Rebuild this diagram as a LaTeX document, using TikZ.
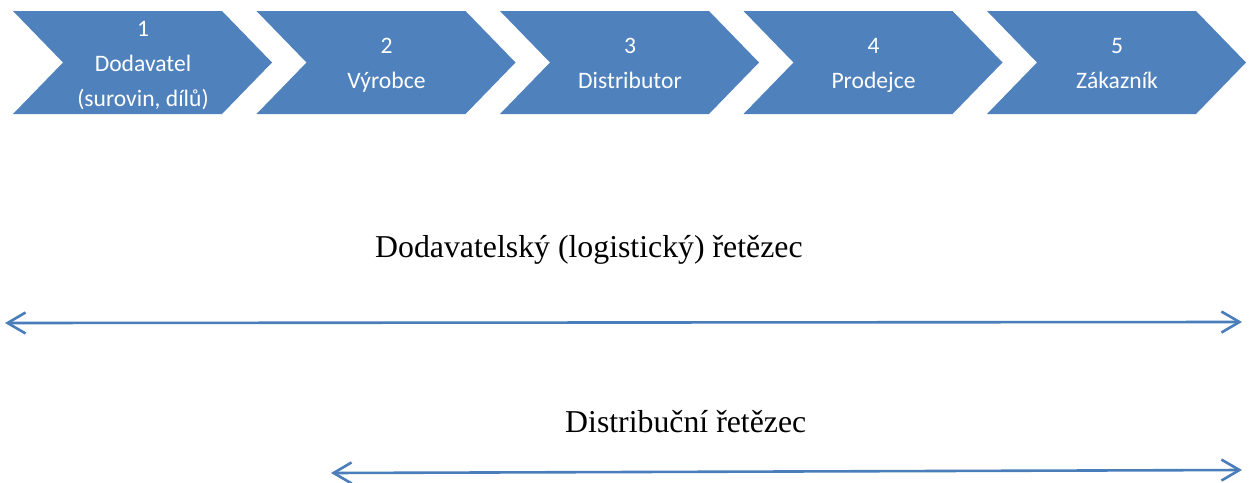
\documentclass[tikz,border=0pt]{standalone}
\usepackage{fontspec}
\setmainfont{Liberation Serif}
\newfontfamily\calibri{Carlito}
\usetikzlibrary{arrows.meta}
\definecolor{ofblue}{HTML}{4F81BD}
\definecolor{arrblue}{HTML}{4A7EBB}
\tikzset{
  chevtext/.style={text=white, align=center, inner sep=0pt, font=\calibri\fontsize{23.6}{35}\selectfont},
  label/.style={anchor=base west, inner sep=0pt, font=\fontsize{31.8}{36}\selectfont},
  arr/.style={draw=arrblue, line width=2.6pt,
    {Straight Barb[length=18pt,width=21pt,line width=2.6pt]}-{Straight Barb[length=18pt,width=21pt,line width=2.6pt]}},
}
\begin{document}
\begin{tikzpicture}[x=1pt,y=-1pt]
\useasboundingbox (0,0) rectangle (1253,482);
\foreach \i/\t in {1/{\strut 1\\\strut Dodavatel\\\strut (surovin, dílů)},2/{\strut 2\\\strut Výrobce},3/{\strut 3\\\strut Distributor},4/{\strut 4\\\strut Prodejce},5/{\strut 5\\\strut Zákazník}}{
  \pgfmathsetmacro{\L}{13+243.5*(\i-1)}
  \fill[ofblue] (\L,11) -- (\L+209,11) -- (\L+259,62.5) -- (\L+209,114) -- (\L,114) -- (\L+50,62.5) -- cycle;
  \node[chevtext] (c\i) at (\L+130,64) {\t};
}
\node[label] (t1) at (375,257) {Dodavatelský (logistický) řetězec};
\node[label] (t2) at (565,432) {Distribuční řetězec};
\coordinate (a1l) at (5,323);
\coordinate (a1r) at (1242,322);
\coordinate (a2l) at (331,473);
\coordinate (a2r) at (1242,470);
\draw[arr] (a1l) -- (a1r);
\draw[arr] (a2l) -- (a2r);
\end{tikzpicture}
\end{document}
